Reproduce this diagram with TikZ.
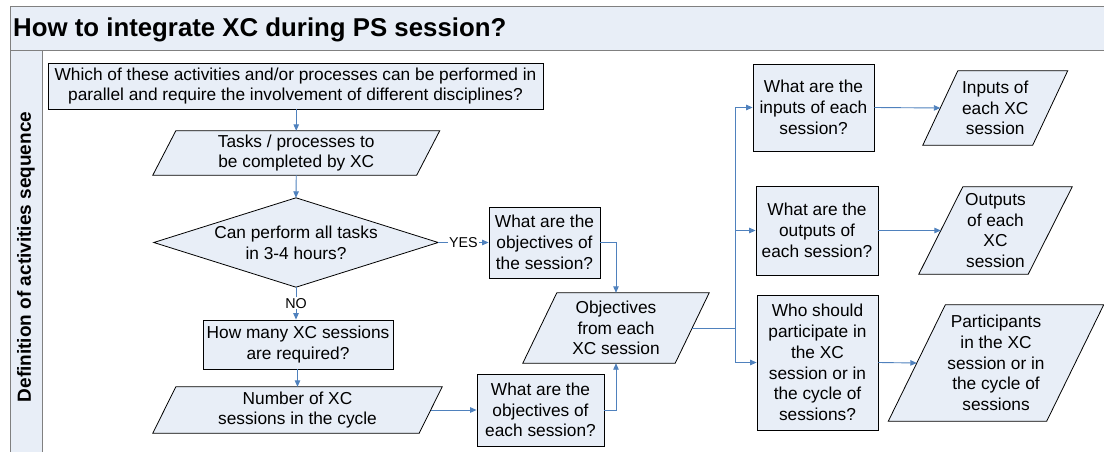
\documentclass[tikz,border=0pt]{standalone}
\usepackage{fontspec}
\setmainfont{Liberation Sans}
\usetikzlibrary{arrows.meta,backgrounds}
\definecolor{boxfill}{RGB}{232,238,247}
\definecolor{connblue}{RGB}{79,129,189}
\definecolor{framegray}{RGB}{128,128,128}
\newcommand\drawpara[2]{\path[shapeline] ([xshift={#2/2}]#1.north west) -- ([xshift={#2/2}]#1.north east) -- ([xshift={-#2/2}]#1.south east) -- ([xshift={-#2/2}]#1.south west) -- cycle;}
\begin{document}
\begin{tikzpicture}[x=1pt,y=-1pt,
  txt/.style={font=\fontsize{17.3}{20.7}\selectfont, align=center, inner sep=0pt, text=black},
  qbox/.style={txt, draw=black, fill=boxfill, line width=0.8pt},
  pbox/.style={txt},
  shapeline/.style={draw=black, fill=boxfill, line width=0.8pt},
  connector/.style={draw=connblue, line width=0.9pt},
  arr/.style={connector, -{Triangle[length=6.5pt,width=5.5pt]}},
  lbl/.style={fill=white, inner sep=1pt, text=black, font=\fontsize{14.3}{16}\selectfont},
  framestyle/.style={draw=framegray, line width=1.3pt}]
\useasboundingbox (0,0) rectangle (1104,452);

% title and lane
\node[anchor=base west, inner sep=0pt, font=\fontsize{25.8}{30}\selectfont\bfseries] (title) at (13,37) {How to integrate XC during PS session?};
\node[rotate=90, inner sep=0pt, font=\fontsize{19}{22}\selectfont\bfseries] (lane) at (26,257) {Definition of activities sequence};

% nodes
\node[qbox, minimum width=495pt, minimum height=46pt] (q1) at (295.5,86) {Which of these activities and/or processes can be performed in\\parallel and require the involvement of different disciplines?};
\node[pbox, minimum width=263.5pt, minimum height=44pt] (p1) at (296.25,153) {Tasks / processes to\\be completed by XC};
\node[pbox, minimum width=284pt, minimum height=89pt] (d1) at (296,242.5) {Can perform all tasks\\in 3-4 hours?};
\node[qbox, minimum width=111pt, minimum height=71pt] (b1) at (544.5,242.5) {What are the\\objectives of\\the session?};
\node[qbox, minimum width=190pt, minimum height=49pt] (b2) at (298,344.5) {How many XC sessions\\are required?};
\node[pbox, minimum width=266pt, minimum height=46pt] (p2) at (297.5,410) {Number of XC\\sessions in the cycle};
\node[qbox, minimum width=127pt, minimum height=72pt] (b3) at (540.5,410) {What are the\\objectives of\\each session?};
\node[pbox, minimum width=152pt, minimum height=70pt] (p3) at (616,328) {Objectives\\from each\\XC session};
\node[qbox, minimum width=121pt, minimum height=87pt] (b4) at (813.5,107.5) {What are the\\inputs of each\\session?};
\node[pbox, minimum width=109.5pt, minimum height=74pt] (p4) at (995.25,108) {Inputs of\\each XC\\session};
\node[qbox, minimum width=122pt, minimum height=89pt] (b5) at (817,230.5) {What are the\\outputs of\\each session?};
\node[pbox, minimum width=109pt, minimum height=87pt] (p5) at (995.5,230.5) {Outputs\\of each\\XC\\session};
\node[qbox, minimum width=121pt, minimum height=135pt] (b6) at (817.5,362.5) {Who should\\participate in\\the XC\\session or in\\the cycle of\\sessions?};
\node[pbox, minimum width=158pt, minimum height=116pt] (p6) at (996,363) {Participants\\in the XC\\session or in\\the cycle of\\sessions};
\coordinate (trunk) at (735,328);

% frame and shapes behind the texts
\begin{scope}[on background layer]
  \fill[boxfill] (10.5,6.5) rectangle (1110,50.5);
  \fill[boxfill] (10.5,50.5) rectangle (42.5,460);
  \draw[framestyle] (1110,6.5) -- (10.5,6.5) -- (10.5,460);
  \draw[framestyle] (10.5,50.5) -- (1110,50.5);
  \draw[framestyle] (42.5,50.5) -- (42.5,460);
  \drawpara{p1}{23}
  \drawpara{p2}{23}
  \drawpara{p3}{34}
  \drawpara{p4}{35}
  \drawpara{p5}{44}
  \drawpara{p6}{57}
  \path[shapeline] (d1.north) -- (d1.east) -- (d1.south) -- (d1.west) -- cycle;
\end{scope}

% connectors
\draw[arr] (q1.south -| p1.north) -- (p1.north);
\draw[arr] (p1.south) -- (d1.north);
\draw[arr] (d1.east) -- node[lbl] (yes) {YES} (b1.west);
\draw[arr] (d1.south) -- node[lbl] (no) {NO} (d1.south |- b2.north);
\draw[arr] (b2.south -| p2.north) -- (p2.north);
\draw[arr] (p2.east) -- (b3.west);
\draw[arr] (b1.east) -| (p3.north);
\draw[arr] (b3.east) -| (p3.south);
\draw[connector] (p3.east) -- (trunk);
\draw[arr] (trunk) |- (b4.west);
\draw[arr] (trunk) |- (b5.west);
\draw[arr] (trunk) |- (b6.west);
\draw[arr] (b4.east) -- (p4.west);
\draw[arr] (b5.east) -- (p5.west);
\draw[arr] (b6.east) -- (p6.west);
\end{tikzpicture}
\end{document}
